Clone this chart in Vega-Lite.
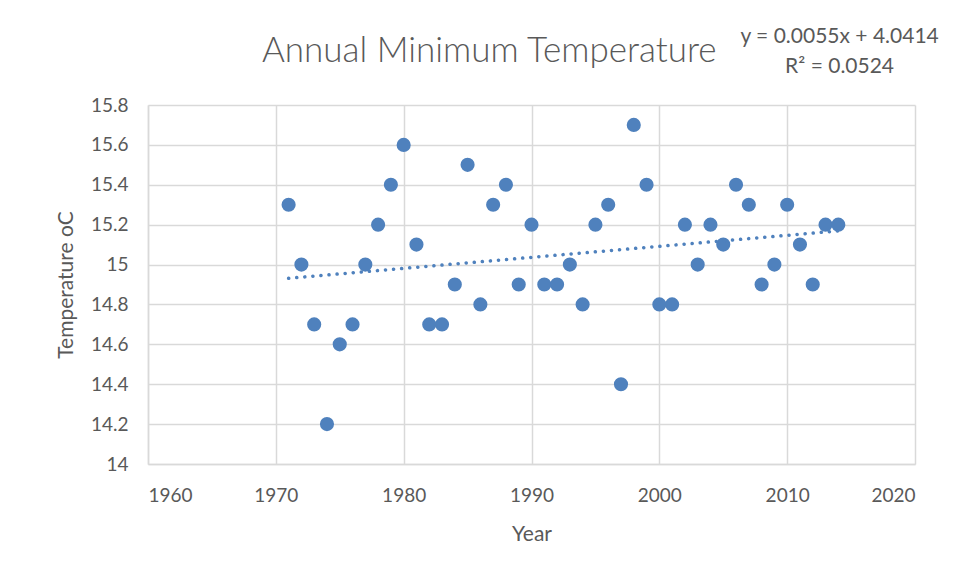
{
  "$schema": "https://vega.github.io/schema/vega-lite/v6.json",
  "width": 767,
  "height": 359,
  "autosize": "none",
  "padding": {"left": 148, "top": 105, "right": 43, "bottom": 112},
  "background": "white",
  "config": {
    "font": "Lato",
    "view": {"stroke": null},
    "axis": {
      "gridColor": "#d9d9d9", "gridWidth": 1.5,
      "domainColor": "#d9d9d9", "domainWidth": 1.5,
      "ticks": false, "labelOverlap": false,
      "labelColor": "#595959", "labelFont": "Lato", "labelFontSize": 19,
      "titleColor": "#595959", "titleFont": "Lato", "titleFontSize": 21, "titleFontWeight": "normal"
    }
  },
  "datasets": {
    "temps": [
      {"Year": 1971, "Temp": 15.3}, {"Year": 1972, "Temp": 15.0}, {"Year": 1973, "Temp": 14.7},
      {"Year": 1974, "Temp": 14.2}, {"Year": 1975, "Temp": 14.6}, {"Year": 1976, "Temp": 14.7},
      {"Year": 1977, "Temp": 15.0}, {"Year": 1978, "Temp": 15.2}, {"Year": 1979, "Temp": 15.4},
      {"Year": 1980, "Temp": 15.6}, {"Year": 1981, "Temp": 15.1}, {"Year": 1982, "Temp": 14.7},
      {"Year": 1983, "Temp": 14.7}, {"Year": 1984, "Temp": 14.9}, {"Year": 1985, "Temp": 15.5},
      {"Year": 1986, "Temp": 14.8}, {"Year": 1987, "Temp": 15.3}, {"Year": 1988, "Temp": 15.4},
      {"Year": 1989, "Temp": 14.9}, {"Year": 1990, "Temp": 15.2}, {"Year": 1991, "Temp": 14.9},
      {"Year": 1992, "Temp": 14.9}, {"Year": 1993, "Temp": 15.0}, {"Year": 1994, "Temp": 14.8},
      {"Year": 1995, "Temp": 15.2}, {"Year": 1996, "Temp": 15.3}, {"Year": 1997, "Temp": 14.4},
      {"Year": 1998, "Temp": 15.7}, {"Year": 1999, "Temp": 15.4}, {"Year": 2000, "Temp": 14.8},
      {"Year": 2001, "Temp": 14.8}, {"Year": 2002, "Temp": 15.2}, {"Year": 2003, "Temp": 15.0},
      {"Year": 2004, "Temp": 15.2}, {"Year": 2005, "Temp": 15.1}, {"Year": 2006, "Temp": 15.4},
      {"Year": 2007, "Temp": 15.3}, {"Year": 2008, "Temp": 14.9}, {"Year": 2009, "Temp": 15.0},
      {"Year": 2010, "Temp": 15.3}, {"Year": 2011, "Temp": 15.1}, {"Year": 2012, "Temp": 14.9},
      {"Year": 2013, "Temp": 15.2}, {"Year": 2014, "Temp": 15.2}
    ],
    "labels": [
      {"label": "Annual Minimum Temperature", "lx": 1986.7, "ly": 16.07, "kind": "title"},
      {"label": "y = 0.0055x + 4.0414", "lx": 2014.1, "ly": 16.14, "kind": "eq"},
      {"label": "R² = 0.0524", "lx": 2014.1, "ly": 15.99, "kind": "eq"}
    ]
  },
  "layer": [
    {
      "data": {"name": "temps"},
      "mark": {"type": "point", "filled": true, "size": 200, "color": "#4f81bd", "opacity": 1},
      "encoding": {
        "x": {
          "field": "Year", "type": "quantitative",
          "scale": {"domain": [1960, 2020], "nice": false, "zero": false},
          "axis": {"values": [1960, 1970, 1980, 1990, 2000, 2010, 2020], "format": "d", "labelPadding": 22, "titlePadding": 18, "title": "Year"}
        },
        "y": {
          "field": "Temp", "type": "quantitative",
          "scale": {"domain": [14, 15.8], "nice": false, "zero": false},
          "axis": {"values": [14, 14.2, 14.4, 14.6, 14.8, 15, 15.2, 15.4, 15.6, 15.8], "format": ".1~f", "labelPadding": 20, "titlePadding": 14, "title": "Temperature oC"}
        }
      }
    },
    {
      "data": {"name": "temps"},
      "transform": [{"regression": "Temp", "on": "Year"}],
      "mark": {"type": "line", "color": "#4f81bd", "strokeWidth": 3.5, "strokeDash": [0.1, 8], "strokeCap": "round"},
      "encoding": {
        "x": {"field": "Year", "type": "quantitative",
          "scale": {"domain": [1960, 2020], "nice": false, "zero": false},
          "axis": {"values": [1960, 1970, 1980, 1990, 2000, 2010, 2020], "format": "d", "labelPadding": 22, "titlePadding": 18, "title": "Year"}},
        "y": {"field": "Temp", "type": "quantitative",
          "scale": {"domain": [14, 15.8], "nice": false, "zero": false},
          "axis": {"values": [14, 14.2, 14.4, 14.6, 14.8, 15, 15.2, 15.4, 15.6, 15.8], "format": ".1~f", "labelPadding": 20, "titlePadding": 14, "title": "Temperature oC"}}
      }
    },
    {
      "data": {"name": "labels"},
      "transform": [{"filter": "datum.kind == 'title'"}],
      "mark": {"type": "text", "font": "Lato", "fontSize": 35, "fontWeight": 300, "color": "#595959", "align": "center", "baseline": "middle", "clip": false},
      "encoding": {
        "x": {"field": "lx", "type": "quantitative",
          "scale": {"domain": [1960, 2020], "nice": false, "zero": false},
          "axis": {"values": [1960, 1970, 1980, 1990, 2000, 2010, 2020], "format": "d", "labelPadding": 22, "titlePadding": 18, "title": "Year"}},
        "y": {"field": "ly", "type": "quantitative",
          "scale": {"domain": [14, 15.8], "nice": false, "zero": false},
          "axis": {"values": [14, 14.2, 14.4, 14.6, 14.8, 15, 15.2, 15.4, 15.6, 15.8], "format": ".1~f", "labelPadding": 20, "titlePadding": 14, "title": "Temperature oC"}},
        "text": {"field": "label"}
      }
    },
    {
      "data": {"name": "labels"},
      "transform": [{"filter": "datum.kind == 'eq'"}],
      "mark": {"type": "text", "font": "Lato", "fontSize": 21, "fontWeight": "normal", "color": "#595959", "align": "center", "baseline": "middle", "clip": false},
      "encoding": {
        "x": {"field": "lx", "type": "quantitative",
          "scale": {"domain": [1960, 2020], "nice": false, "zero": false},
          "axis": {"values": [1960, 1970, 1980, 1990, 2000, 2010, 2020], "format": "d", "labelPadding": 22, "titlePadding": 18, "title": "Year"}},
        "y": {"field": "ly", "type": "quantitative",
          "scale": {"domain": [14, 15.8], "nice": false, "zero": false},
          "axis": {"values": [14, 14.2, 14.4, 14.6, 14.8, 15, 15.2, 15.4, 15.6, 15.8], "format": ".1~f", "labelPadding": 20, "titlePadding": 14, "title": "Temperature oC"}},
        "text": {"field": "label"}
      }
    }
  ]
}
